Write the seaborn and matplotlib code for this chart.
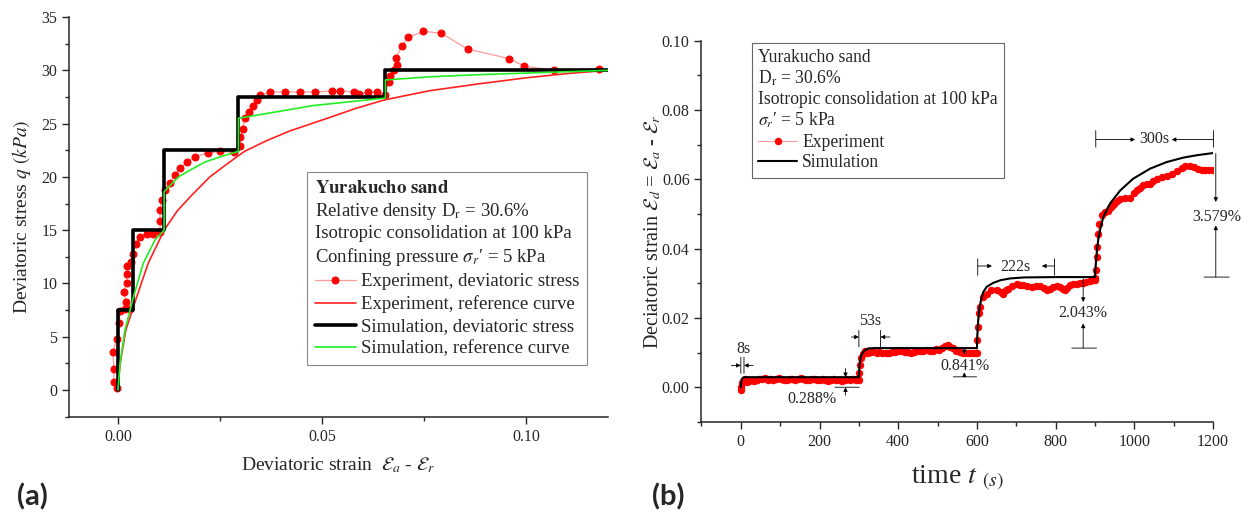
import matplotlib
matplotlib.use("Agg")
import matplotlib.pyplot as plt
import seaborn as sns
from matplotlib.ticker import MultipleLocator, FormatStrFormatter

# ---- (a) deviatoric stress vs deviatoric strain ----
exp_strain = [-0.0003, -0.0010, -0.0010, -0.0012, -0.0003, 0.0003, 0.0005, 0.0017, 0.0029, 0.0020,
              0.0015, 0.0021, 0.0021, 0.0023, 0.0031, 0.0036, 0.0043, 0.0054, 0.0070, 0.0087,
              0.0103, 0.0103, 0.0103, 0.0107, 0.0115, 0.0127, 0.0140, 0.0152, 0.0168, 0.0189,
              0.0221, 0.0250, 0.0283, 0.0300, 0.0300, 0.0306, 0.0310, 0.0320, 0.0330, 0.0340,
              0.0348, 0.0373, 0.0410, 0.0446, 0.0483, 0.0524, 0.0544, 0.0577, 0.0590, 0.0612,
              0.0634, 0.0654, 0.0663, 0.0665, 0.0675, 0.0683, 0.0681, 0.0695, 0.0711, 0.0747,
              0.0791, 0.0856, 0.0958, 0.0995, 0.1067, 0.1177]
exp_q = [0.16, 0.8, 2.0, 3.6, 4.8, 6.3, 7.4, 7.6, 7.6, 8.3,
         9.2, 10.0, 10.9, 11.6, 12.0, 12.8, 13.75, 14.4, 14.6, 14.6,
         14.8, 15.9, 16.9, 17.8, 18.75, 19.4, 20.2, 20.8, 21.4, 21.9,
         22.25, 22.4, 22.3, 22.9, 23.75, 24.5, 25.5, 26.1, 26.7, 27.25,
         27.65, 27.97, 27.97, 27.97, 27.97, 28.06, 28.06, 27.97, 27.8, 27.97,
         27.97, 27.65, 28.9, 29.5, 30.0, 30.5, 31.2, 32.3, 33.1, 33.65,
         33.5, 32.0, 31.1, 30.4, 30.0, 30.15]

exp_ref_strain = [0.0, 0.0005, 0.0019, 0.0046, 0.0074, 0.0113, 0.0145, 0.0181, 0.0225, 0.0270,
                  0.0310, 0.0364, 0.0420, 0.0520, 0.0580, 0.0650, 0.0700, 0.0765, 0.0887,
                  0.1000, 0.1100, 0.1200]
exp_ref_q = [0.0, 2.4, 5.6, 8.75, 11.9, 15.0, 16.8, 18.3, 20.0, 21.3,
             22.4, 23.4, 24.3, 25.6, 26.4, 27.2, 27.6, 28.1, 28.75,
             29.3, 29.7, 30.0]

sim_strain = [0.0, 0.0001, 0.0001, 0.0038, 0.0038, 0.0113, 0.0113, 0.0295, 0.0295,
              0.0655, 0.0655, 0.1200]
sim_q = [0.0, 0.0, 7.5, 7.5, 15.0, 15.0, 22.5, 22.5, 27.5, 27.5, 30.0, 30.0]

sim_ref_strain = [0.0, 0.0005, 0.0017, 0.0038, 0.0062, 0.0091, 0.0113, 0.0113, 0.0120, 0.0148,
                  0.0175, 0.0213, 0.0260, 0.0295, 0.0295, 0.0310, 0.0356, 0.0479, 0.0655,
                  0.0655, 0.0765, 0.0887, 0.1200]
sim_ref_q = [0.0, 2.5, 5.6, 8.75, 11.9, 14.1, 15.0, 18.6, 18.9, 20.0,
             20.6, 21.4, 22.0, 22.4, 25.5, 25.6, 25.9, 26.7, 27.4,
             29.1, 29.4, 29.6, 30.0]

# ---- (b) deviatoric strain vs time ----
exp_time = [0, 1, 3, 6, 10, 16, 22, 28, 34, 40, 47, 54, 61, 68, 75, 82, 89, 96, 103, 110,
            117, 124, 131, 138, 145, 152, 159, 166, 173, 180, 187, 194, 201, 208, 215, 222,
            229, 236, 243, 250, 257, 264, 271, 278, 285, 292, 298,
            300, 301, 303, 306, 310, 316, 323, 330, 337, 345, 352, 360, 368, 376, 384, 392,
            400, 408, 416, 424, 432, 440, 448, 456, 464, 472, 480, 488, 496, 504, 512, 520,
            526, 532, 540, 548, 556, 564, 572, 580, 588, 596,
            600, 601, 603, 606, 609, 616, 625, 637, 650, 660, 667, 675, 680, 690, 701, 710,
            718, 728, 739, 750, 760, 770, 777, 785, 794, 803, 811, 818, 824, 830, 836, 845,
            854, 862, 870, 878, 887, 894, 899,
            901, 903, 904, 906, 908, 911, 917, 925, 932, 938, 943, 948, 956, 964, 976, 989,
            998, 1006, 1015, 1023, 1032, 1040, 1048, 1057, 1070, 1082, 1095, 1108, 1120, 1129,
            1142, 1152, 1163, 1172, 1180, 1190, 1200]
exp_strain_t = [-0.0009, 0.0001, 0.0011, 0.0018, 0.0024, 0.0015, 0.0019, 0.0021, 0.0017, 0.0022,
                0.0025, 0.0023, 0.0026, 0.0021, 0.0024, 0.0022, 0.0025, 0.0027, 0.0023, 0.0022,
                0.0020, 0.0023, 0.0025, 0.0022, 0.0024, 0.0026, 0.0023, 0.0021, 0.0022, 0.0025,
                0.0024, 0.0022, 0.0020, 0.0023, 0.0021, 0.0019, 0.0022, 0.0024, 0.0020, 0.0022,
                0.0018, 0.0021, 0.0023, 0.0020, 0.0023, 0.0022, 0.0024,
                0.0022, 0.0040, 0.0063, 0.0083, 0.0095, 0.0105, 0.0100, 0.0102, 0.0104, 0.0100,
                0.0102, 0.0100, 0.0098, 0.0099, 0.0103, 0.0101, 0.0106, 0.0104, 0.0102, 0.0101,
                0.0099, 0.0103, 0.0105, 0.0104, 0.0106, 0.0107, 0.0104, 0.0106, 0.0110, 0.0108,
                0.0114, 0.0120, 0.0121, 0.0116, 0.0112, 0.0106, 0.0102, 0.0100, 0.0099, 0.0098,
                0.0099, 0.0099,
                0.0098, 0.0136, 0.0174, 0.0213, 0.0232, 0.0260, 0.0270, 0.0280, 0.0280, 0.0275,
                0.0270, 0.0280, 0.0285, 0.0292, 0.0297, 0.0295, 0.0294, 0.0292, 0.0290, 0.0293,
                0.0292, 0.0286, 0.0280, 0.0284, 0.0290, 0.0291, 0.0290, 0.0285, 0.0280, 0.0287,
                0.0294, 0.0297, 0.0299, 0.0300, 0.0301, 0.0303, 0.0307, 0.0309, 0.0310,
                0.0315, 0.0338, 0.0376, 0.0405, 0.0443, 0.0472, 0.0496, 0.0506, 0.0510, 0.0516,
                0.0522, 0.0530, 0.0537, 0.0544, 0.0545, 0.0547, 0.0560, 0.0568, 0.0576, 0.0583,
                0.0586, 0.0588, 0.0595, 0.0602, 0.0606, 0.0609, 0.0617, 0.0624, 0.0632, 0.0640,
                0.0640, 0.0636, 0.0631, 0.0628, 0.0628, 0.0628, 0.0628]

sim_time = [0, 1, 3, 6, 10, 300, 301, 303, 306, 311, 317, 324, 340, 600,
            601, 603, 606, 610, 616, 625, 641, 660, 684, 720, 800, 900,
            901, 903, 905, 908, 914, 921, 938, 964, 997, 1040, 1082, 1125, 1160, 1200]
sim_strain_t = [0.0, 0.0015, 0.0024, 0.0028, 0.0029, 0.0029, 0.0055, 0.0078, 0.0092, 0.0102,
                0.0108, 0.0112, 0.0113, 0.0113,
                0.0150, 0.0190, 0.0225, 0.0250, 0.0275, 0.0290, 0.0301, 0.0309, 0.0314, 0.0317,
                0.0318, 0.0318,
                0.0340, 0.0370, 0.0395, 0.0424, 0.0460, 0.0491, 0.0530, 0.0568, 0.0602, 0.0631,
                0.0650, 0.0663, 0.0670, 0.0676]

sns.set_style("ticks")
plt.rcParams["font.family"] = ["Liberation Serif", "DejaVu Serif"]
plt.rcParams["mathtext.fontset"] = "stix"

fig = plt.figure(figsize=(12.56, 5.17), dpi=100)
ax1 = fig.add_axes([0.0549, 0.194, 0.4292, 0.773])
ax2 = fig.add_axes([0.5585, 0.184, 0.4073, 0.737])

pink = "#ff9a9a"

# panel (a)
sns.lineplot(x=exp_strain, y=exp_q, sort=False, estimator=None, ax=ax1, color=pink, lw=0.9,
             marker="o", ms=5, mfc="red", mec="red", label="Experiment, deviatoric stress")
sns.lineplot(x=exp_ref_strain, y=exp_ref_q, sort=False, estimator=None, ax=ax1, color="#ff2020",
             lw=1.2, label="Experiment, reference curve")
sns.lineplot(x=sim_strain, y=sim_q, sort=False, estimator=None, ax=ax1, color="black",
             lw=2.6, label="Simulation, deviatoric stress")
sns.lineplot(x=sim_ref_strain, y=sim_ref_q, sort=False, estimator=None, ax=ax1, color="#22ee22",
             lw=1.2, label="Simulation, reference curve")

ax1.set_xlim(-0.012, 0.12)
ax1.set_ylim(-2.5, 35)
ax1.xaxis.set_major_locator(MultipleLocator(0.05))
ax1.xaxis.set_minor_locator(MultipleLocator(0.025))
ax1.xaxis.set_major_formatter(FormatStrFormatter("%.2f"))
ax1.yaxis.set_major_locator(MultipleLocator(5))
ax1.yaxis.set_minor_locator(MultipleLocator(2.5))
ax1.set_xlabel(r"Deviatoric strain  $\mathcal{E}_a$ - $\mathcal{E}_r$", fontsize=14, labelpad=8)
ax1.set_ylabel(r"Deviatoric stress $q$ $(kPa)$", fontsize=14, labelpad=6)

title_a = ("$\\mathbf{Yurakucho\\ sand}$\n"
           "Relative density D$_\\mathrm{r}$ = 30.6%\n"
           "Isotropic consolidation at 100 kPa\n"
           "Confining pressure $\\sigma_r$\u2032 = 5 kPa")
h, l = ax1.get_legend_handles_labels()
leg1 = ax1.legend(h, l, title=title_a, alignment="left", loc="upper left",
                  bbox_to_anchor=(0.4416, 0.612), borderaxespad=0, fontsize=13.5,
                  title_fontsize=13.5, handlelength=2.2, handletextpad=0.3, labelspacing=0.27,
                  fancybox=False, edgecolor="#888888", framealpha=1, borderpad=0.4)
leg1.get_frame().set_linewidth(0.8)
leg1.get_title().set_linespacing(1.26)

# panel (b)
sns.lineplot(x=exp_time, y=exp_strain_t, sort=False, estimator=None, ax=ax2, color=pink, lw=0.8,
             marker="o", ms=4.6, mfc="red", mec="red", label="Experiment")
sns.lineplot(x=sim_time, y=sim_strain_t, sort=False, estimator=None, ax=ax2, color="black",
             lw=1.5, label="Simulation")

ax2.set_xlim(-100, 1200)
ax2.set_ylim(-0.01, 0.10)
ax2.xaxis.set_major_locator(MultipleLocator(200))
ax2.xaxis.set_minor_locator(MultipleLocator(100))
ax2.yaxis.set_major_locator(MultipleLocator(0.02))
ax2.yaxis.set_minor_locator(MultipleLocator(0.01))
ax2.yaxis.set_major_formatter(FormatStrFormatter("%.2f"))
ax2.set_xlabel(r"time $t$ $_{(s)}$", fontsize=20, labelpad=10)
ax2.set_ylabel(r"Deciatoric strain $\mathcal{E}_d$ = $\mathcal{E}_a$ - $\mathcal{E}_r$",
               fontsize=14.5, labelpad=-1)

title_b = ("Yurakucho sand\n"
           "D$_\\mathrm{r}$ = 30.6%\n"
           "Isotropic consolidation at 100 kPa\n"
           "$\\sigma_r$\u2032 = 5 kPa")
h, l = ax2.get_legend_handles_labels()
leg2 = ax2.legend(h, l, title=title_b, alignment="left", loc="upper left",
                  bbox_to_anchor=(0.0987, 0.995), borderaxespad=0, fontsize=12.7,
                  title_fontsize=12.7, handlelength=2.2, handletextpad=0.3, labelspacing=0.2,
                  fancybox=False, edgecolor="#666666", framealpha=1, borderpad=0.35)
leg2.get_frame().set_linewidth(0.8)
leg2.get_title().set_linespacing(1.2)

for ax in (ax1, ax2):
    sns.despine(ax=ax)
    ax.tick_params(which="major", direction="out", length=5, width=1, labelsize=11.5)
    ax.tick_params(which="minor", direction="out", length=3, width=1)
    for s in ("left", "bottom"):
        ax.spines[s].set_linewidth(1.1)

# dimension marks on panel (b)
def arrow(x0, y0, x1, y1):
    ax2.annotate("", xy=(x1, y1), xytext=(x0, y0), annotation_clip=False,
                 arrowprops=dict(arrowstyle="-|>", color="black", lw=0.6,
                                 mutation_scale=6, shrinkA=0, shrinkB=0))

def bar(x0, y0, x1, y1):
    ax2.annotate("", xy=(x1, y1), xytext=(x0, y0), annotation_clip=False,
                 arrowprops=dict(arrowstyle="-", color="black", lw=0.6, shrinkA=0, shrinkB=0))

fs = 11.5
# 8s
bar(0, 0.0040, 0, 0.0087)
bar(8, 0.0040, 8, 0.0087)
arrow(-24, 0.0063, 0, 0.0063)
arrow(31, 0.0063, 8, 0.0063)
ax2.text(6, 0.0109, "8s", ha="center", va="center", fontsize=fs)
# 53s
bar(300, 0.0116, 300, 0.0164)
bar(355, 0.0116, 355, 0.0164)
arrow(281, 0.0145, 300, 0.0145)
arrow(379, 0.0145, 355, 0.0145)
ax2.text(328, 0.0190, "53s", ha="center", va="center", fontsize=fs)
# 0.288%
bar(239, 0.0, 301, 0.0)
arrow(266, 0.0054, 266, 0.0029)
arrow(266, -0.0023, 266, 0.0)
ax2.text(180, -0.0033, "0.288%", ha="center", va="center", fontsize=fs)
# 0.841%
bar(540, 0.0030, 599, 0.0030)
arrow(568, 0.0113, 568, 0.0095)
arrow(568, 0.0030, 568, 0.0043)
ax2.text(570, 0.0060, "0.841%", ha="center", va="center", fontsize=fs)
# 222s
bar(602, 0.0323, 602, 0.0371)
bar(797, 0.0323, 797, 0.0371)
arrow(602, 0.0350, 638, 0.0350)
arrow(797, 0.0350, 765, 0.0350)
ax2.text(697, 0.0348, "222s", ha="center", va="center", fontsize=fs)
# 2.043%
bar(841, 0.0113, 904, 0.0113)
arrow(870, 0.0317, 870, 0.0246)
arrow(870, 0.0113, 870, 0.0184)
ax2.text(870, 0.0214, "2.043%", ha="center", va="center", fontsize=fs)
# 300s
bar(902, 0.0693, 902, 0.0741)
bar(1201, 0.0693, 1201, 0.0741)
arrow(902, 0.0715, 1002, 0.0715)
arrow(1201, 0.0715, 1095, 0.0715)
ax2.text(1050, 0.0716, "300s", ha="center", va="center", fontsize=fs)
# 3.579%
bar(1177, 0.0318, 1241, 0.0318)
arrow(1207, 0.0675, 1207, 0.0535)
arrow(1207, 0.0318, 1207, 0.0467)
ax2.text(1209, 0.0492, "3.579%", ha="center", va="center", fontsize=fs)

fig.text(0.026, 0.038, "(a)", fontsize=21, fontweight="bold", family="Lato", ha="center", va="center")
fig.text(0.532, 0.038, "(b)", fontsize=21, fontweight="bold", family="Lato", ha="center", va="center")

fig.savefig("out.png", dpi=100)
